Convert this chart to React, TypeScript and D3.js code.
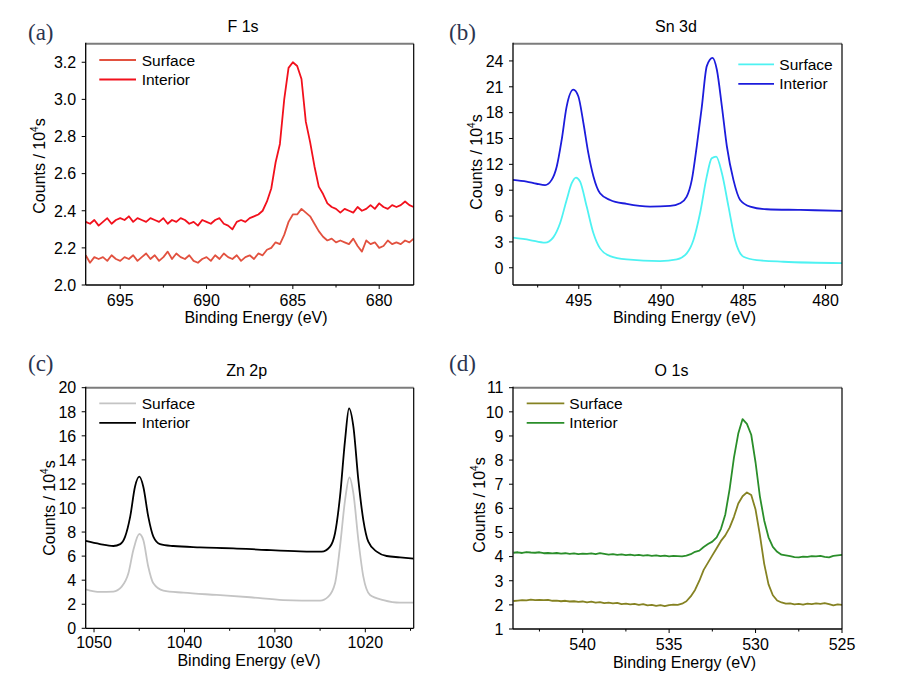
import React from "react";
import * as d3 from "d3";

// ---------- DATA ----------
// (a) F 1s : energy grid 697 -> 678 eV, step 0.25
const f1sEnergy = d3.range(697, 677.99, -0.25);
const f1sSurface = [
  2.16, 2.12, 2.15, 2.14, 2.15, 2.13, 2.16, 2.14, 2.13, 2.15, 2.14, 2.16, 2.13, 2.15, 2.17, 2.14,
  2.16, 2.13, 2.15, 2.18, 2.14, 2.17, 2.15, 2.14, 2.16, 2.13, 2.12, 2.14, 2.15, 2.13, 2.16, 2.14,
  2.17, 2.15, 2.14, 2.16, 2.13, 2.15, 2.16, 2.14, 2.17, 2.16, 2.19, 2.2, 2.23, 2.22, 2.27, 2.34,
  2.38, 2.38, 2.41, 2.39, 2.37, 2.33, 2.29, 2.26, 2.24, 2.25, 2.23, 2.24, 2.23, 2.22, 2.25, 2.21,
  2.18, 2.24, 2.22, 2.23, 2.2, 2.21, 2.24, 2.22, 2.23, 2.22, 2.24, 2.23, 2.25,
];
const f1sInterior = [
  2.34, 2.33, 2.35, 2.32, 2.34, 2.36, 2.33, 2.35, 2.36, 2.35, 2.37, 2.34, 2.36, 2.35, 2.34, 2.36,
  2.35, 2.34, 2.36, 2.33, 2.35, 2.34, 2.36, 2.35, 2.33, 2.34, 2.32, 2.35, 2.34, 2.33, 2.35, 2.36,
  2.33, 2.32, 2.3, 2.34, 2.35, 2.34, 2.36, 2.37, 2.38, 2.4, 2.45, 2.52, 2.66, 2.76, 3.0, 3.17,
  3.2, 3.18, 3.11, 2.88, 2.77, 2.64, 2.53, 2.49, 2.44, 2.42, 2.41, 2.39, 2.41, 2.4, 2.39, 2.42,
  2.4, 2.41, 2.43, 2.41, 2.44, 2.42, 2.41, 2.43, 2.42, 2.43, 2.45, 2.43, 2.42,
];
const f1sXTicks = [695, 690, 685, 680];
const f1sXMinor = [692.5, 687.5, 682.5];
const f1sYTicks = [2.0, 2.2, 2.4, 2.6, 2.8, 3.0, 3.2];

// (b) Sn 3d
const snSurfaceEnergy = [499, 497.97, 497.05, 496.55, 496.14, 495.74, 495.43, 495.17, 494.92, 494.52, 494.11, 493.71, 493.1, 492.09, 490.06, 489.04, 488.44, 488.03, 487.63, 487.22, 486.92, 486.65, 486.3, 485.9, 485.5, 484.99, 484.18, 482.56, 479];
const snSurface = [3.49, 3.22, 2.91, 3.53, 5.16, 7.87, 9.81, 10.47, 10.0, 7.1, 4.0, 2.25, 1.36, 0.97, 0.78, 0.97, 1.67, 3.22, 6.32, 10.6, 12.7, 12.9, 10.97, 7.1, 3.22, 1.28, 0.89, 0.7, 0.54];
const snInteriorEnergy = [499, 498.17, 497.56, 497.05, 496.65, 496.34, 496.04, 495.74, 495.33, 495.03, 494.72, 494.42, 494.11, 493.71, 493.1, 492.09, 490.67, 489.45, 488.84, 488.44, 488.13, 487.83, 487.52, 487.22, 486.87, 486.61, 486.3, 486.0, 485.6, 485.19, 484.58, 483.57, 481.54, 479];
const snInterior = [10.2, 10.0, 9.75, 9.6, 10.2, 11.75, 14.85, 18.7, 20.67, 19.9, 16.8, 13.3, 10.6, 8.65, 7.87, 7.41, 7.1, 7.17, 7.48, 8.26, 10.2, 14.1, 18.7, 23.4, 24.35, 23.0, 18.7, 14.1, 10.2, 7.87, 7.1, 6.79, 6.71, 6.6];
const snXTicks = [495, 490, 485, 480];
const snXMinor = [497.5, 492.5, 487.5, 482.5];
const snYTicks = [0, 3, 6, 9, 12, 15, 18, 21, 24];

// (c) Zn 2p
const znSurfaceEnergy = [1050.92, 1049.34, 1047.86, 1046.94, 1046.2, 1045.65, 1044.99, 1044.55, 1044.0, 1043.44, 1042.33, 1040.12, 1036.44, 1032.75, 1029.06, 1025.0, 1024.09, 1023.35, 1022.8, 1022.24, 1021.76, 1021.32, 1020.77, 1020.22, 1019.48, 1018.0, 1016.16, 1014.65];
const znSurface = [3.24, 3.02, 3.05, 3.46, 4.57, 6.51, 7.84, 7.34, 5.12, 3.74, 3.13, 2.96, 2.77, 2.58, 2.35, 2.3, 2.63, 3.74, 6.79, 10.66, 12.55, 11.22, 7.34, 4.29, 2.77, 2.35, 2.13, 2.13];
const znInteriorEnergy = [1050.92, 1049.34, 1047.86, 1047.1, 1046.57, 1046.0, 1045.47, 1044.99, 1044.55, 1044.0, 1043.44, 1042.7, 1041.23, 1038.28, 1034.59, 1030.9, 1027.22, 1024.82, 1023.9, 1023.35, 1022.8, 1022.24, 1021.8, 1021.32, 1020.77, 1020.22, 1019.67, 1018.74, 1017.64, 1016.16, 1014.65];
const znInterior = [7.26, 7.0, 6.84, 7.0, 7.6, 9.28, 11.77, 12.6, 11.77, 9.28, 7.62, 7.0, 6.84, 6.73, 6.65, 6.51, 6.4, 6.37, 6.79, 7.9, 10.94, 15.65, 18.28, 16.76, 12.33, 9.0, 7.2, 6.37, 6.01, 5.9, 5.79];
const znXTicks = [1050, 1040, 1030, 1020];
const znXMinor = [1045, 1035, 1025, 1015];
const znYTicks = [0, 2, 4, 6, 8, 10, 12, 14, 16, 18, 20];

// (d) O 1s : energy grid 544 -> 525 eV, step 0.25
const o1sEnergy = d3.range(544, 524.99, -0.25);
const o1sSurface = [
  2.16, 2.18, 2.2, 2.19, 2.22, 2.2, 2.21, 2.2, 2.21, 2.17, 2.18, 2.15, 2.17, 2.14, 2.15, 2.12,
  2.14, 2.1, 2.13, 2.09, 2.11, 2.07, 2.09, 2.06, 2.08, 2.03, 2.05, 2.02, 2.04, 2.0, 2.03, 1.98,
  2.0, 1.96, 1.99, 1.95, 1.99, 2.01, 2.0, 2.05, 2.15, 2.35, 2.62, 3.0, 3.45, 3.75, 4.05, 4.35,
  4.65, 4.88, 5.2, 5.65, 6.2, 6.5, 6.66, 6.55, 5.95, 4.9, 3.7, 2.85, 2.4, 2.18, 2.1, 2.05,
  2.06, 2.02, 2.04, 2.01, 2.05, 2.03, 2.06, 2.04, 2.07, 2.03, 1.98, 2.02, 2.0,
];
const o1sInterior = [
  4.16, 4.18, 4.15, 4.19, 4.17, 4.16, 4.18, 4.14, 4.15, 4.13, 4.15, 4.12, 4.14, 4.11, 4.13, 4.1,
  4.12, 4.11, 4.13, 4.1, 4.14, 4.11, 4.08, 4.1, 4.07, 4.09, 4.06, 4.08, 4.05, 4.07, 4.04, 4.06,
  4.03, 4.05, 4.02, 4.04, 4.01, 4.03, 4.02, 4.01, 4.04, 4.1, 4.2, 4.25, 4.4, 4.52, 4.62, 4.8,
  5.15, 5.75, 6.8, 8.1, 9.1, 9.7, 9.5, 9.05, 7.9, 6.5, 5.5, 4.8, 4.4, 4.2, 4.08, 4.05,
  4.02, 3.98, 3.97, 4.0, 3.99, 4.02, 4.01, 4.03, 3.99, 3.97, 4.03, 4.05, 4.07,
];
const o1sXTicks = [540, 535, 530, 525];
const o1sXMinor = [542.5, 537.5, 532.5, 527.5];
const o1sYTicks = [1, 2, 3, 4, 5, 6, 7, 8, 9, 10, 11];

const seriesNames = ["Surface", "Interior"];

// ---------- DRAWING ----------
const FONT = "'Liberation Sans', Arial, sans-serif";
const SERIF = "'Liberation Serif', 'Times New Roman', serif";

type Series = { energy: number[]; values: number[]; color: string };

type PanelProps = {
  label: string;
  title: string;
  box: [number, number, number, number]; // left, right, top, bottom
  xDomain: [number, number];
  yDomain: [number, number];
  xTicks: number[];
  xMinor: number[];
  yTicks: number[];
  yFmt: (v: number) => string;
  series: Series[];
  smooth: boolean;
  labelPos: [number, number];
  titlePos: [number, number];
  xLabelPos: [number, number];
  yLabelPos: [number, number];
  xTickBaseline: number;
  legend: [number, number, number, number]; // x1, x2, y, textX
};

function Panel(p: PanelProps) {
  const [L, R, T, B] = p.box;
  const x = d3.scaleLinear().domain(p.xDomain).range([L, R]);
  const y = d3.scaleLinear().domain(p.yDomain).range([B, T]);
  const line = d3
    .line<[number, number]>()
    .x((d) => x(d[0]))
    .y((d) => y(d[1]))
    .curve(p.smooth ? d3.curveMonotoneX : d3.curveLinear);
  const [lx1, lx2, ly, ltx] = p.legend;
  const clipId = "clip-" + p.title.replace(/\s/g, "");
  return (
    <g>
      <text x={p.labelPos[0]} y={p.labelPos[1]} fontFamily={SERIF} fontSize={23} fill="#2b3550">
        {p.label}
      </text>
      <text x={p.titlePos[0]} y={p.titlePos[1]} fontFamily={FONT} fontSize={16} textAnchor="middle" fill="#000">
        {p.title}
      </text>
      <defs>
        <clipPath id={clipId}>
          <rect x={L} y={T} width={R - L} height={B - T} />
        </clipPath>
      </defs>
      <g clipPath={`url(#${clipId})`}>
        {p.series.map((s, i) => {
          const pts: [number, number][] = s.values
            .slice(0, Math.min(s.values.length, s.energy.length))
            .map((v, j) => [s.energy[j], v]);
          return <path key={i} d={line(pts) || ""} fill="none" stroke={s.color} strokeWidth={1.8} strokeLinejoin="round" />;
        })}
      </g>
      {/* frame */}
      <line x1={L} x2={R} y1={T} y2={T} stroke="#7c7c7c" strokeWidth={2} />
      <line x1={R} x2={R} y1={T} y2={B} stroke="#000" strokeWidth={1.2} />
      <line x1={L} x2={L} y1={T - 1} y2={B} stroke="#000" strokeWidth={1.3} />
      <line x1={L} x2={R} y1={B} y2={B} stroke="#000" strokeWidth={1.3} />
      {/* x ticks */}
      {p.xTicks.map((t) => (
        <g key={"xt" + t}>
          <line x1={x(t)} x2={x(t)} y1={B} y2={B + 4} stroke="#000" strokeWidth={1} />
          <text x={x(t)} y={p.xTickBaseline} fontFamily={FONT} fontSize={16} textAnchor="middle">
            {t}
          </text>
        </g>
      ))}
      {p.xMinor.map((t) => (
        <line key={"xm" + t} x1={x(t)} x2={x(t)} y1={B} y2={B + 2.5} stroke="#000" strokeWidth={1} />
      ))}
      {/* y ticks */}
      {p.yTicks.map((t) => (
        <g key={"yt" + t}>
          <line x1={L - 4} x2={L} y1={y(t)} y2={y(t)} stroke="#000" strokeWidth={1} />
          <text x={L - 9.5} y={y(t)} dy="0.36em" fontFamily={FONT} fontSize={16} textAnchor="end">
            {p.yFmt(t)}
          </text>
        </g>
      ))}
      {/* axis labels */}
      <text x={p.xLabelPos[0]} y={p.xLabelPos[1]} fontFamily={FONT} fontSize={16} textAnchor="middle">
        Binding Energy (eV)
      </text>
      <text
        transform={`translate(${p.yLabelPos[0]},${p.yLabelPos[1]}) rotate(-90)`}
        fontFamily={FONT}
        fontSize={16}
        textAnchor="middle"
      >
        Counts / 10
        <tspan fontSize={10} dy={-7}>4</tspan>
        <tspan dy={7}>s</tspan>
      </text>
      {/* legend */}
      {p.series.map((s, i) => (
        <g key={"lg" + i}>
          <line x1={lx1} x2={lx2} y1={ly + i * 19.5} y2={ly + i * 19.5} stroke={s.color} strokeWidth={1.8} />
          <text x={ltx} y={ly + i * 19.5} dy="0.36em" fontFamily={FONT} fontSize={15.5}>
            {seriesNames[i]}
          </text>
        </g>
      ))}
    </g>
  );
}

export default function App() {
  const f1 = (v: number) => v.toFixed(1);
  const f0 = (v: number) => String(v);
  return (
    <svg width={909} height={681} style={{ position: "absolute", left: 0, top: 0, background: "#fff" }}>
      <rect x={0} y={0} width={909} height={681} fill="#fff" />
      <Panel
        label="(a)"
        title="F 1s"
        box={[85.7, 413.7, 43.7, 285]}
        xDomain={[697, 678]}
        yDomain={[2.0, 3.3]}
        xTicks={f1sXTicks}
        xMinor={f1sXMinor}
        yTicks={f1sYTicks}
        yFmt={f1}
        series={[
          { energy: f1sEnergy, values: f1sSurface, color: "#e2513f" },
          { energy: f1sEnergy, values: f1sInterior, color: "#f2101c" },
        ]}
        smooth={false}
        labelPos={[28, 40]}
        titlePos={[243, 31.5]}
        xLabelPos={[256, 323]}
        yLabelPos={[45, 166]}
        xTickBaseline={306}
        legend={[99.3, 136, 60, 141.7]}
      />
      <Panel
        label="(b)"
        title="Sn 3d"
        box={[513, 842, 43.7, 285]}
        xDomain={[499, 479]}
        yDomain={[-2, 26]}
        xTicks={snXTicks}
        xMinor={snXMinor}
        yTicks={snYTicks}
        yFmt={f0}
        series={[
          { energy: snSurfaceEnergy, values: snSurface, color: "#4ef2f2" },
          { energy: snInteriorEnergy, values: snInterior, color: "#1c1cdc" },
        ]}
        smooth={true}
        labelPos={[449, 40]}
        titlePos={[676, 31.5]}
        xLabelPos={[684.5, 323]}
        yLabelPos={[481.7, 162]}
        xTickBaseline={306}
        legend={[738.3, 774, 64.3, 779.3]}
      />
      <Panel
        label="(c)"
        title="Zn 2p"
        box={[85.7, 413.7, 387.7, 628.3]}
        xDomain={[1050.92, 1014.65]}
        yDomain={[0, 20]}
        xTicks={znXTicks}
        xMinor={znXMinor}
        yTicks={znYTicks}
        yFmt={f0}
        series={[
          { energy: znSurfaceEnergy, values: znSurface, color: "#c4c4c4" },
          { energy: znInteriorEnergy, values: znInterior, color: "#000000" },
        ]}
        smooth={true}
        labelPos={[28, 371]}
        titlePos={[246.7, 376]}
        xLabelPos={[249, 666]}
        yLabelPos={[55, 508]}
        xTickBaseline={648.3}
        legend={[99.3, 136, 403.3, 141.7]}
      />
      <Panel
        label="(d)"
        title="O 1s"
        box={[513, 842, 387.7, 629]}
        xDomain={[544.03, 525]}
        yDomain={[1, 11]}
        xTicks={o1sXTicks}
        xMinor={o1sXMinor}
        yTicks={o1sYTicks}
        yFmt={f0}
        series={[
          { energy: o1sEnergy, values: o1sSurface, color: "#858222" },
          { energy: o1sEnergy, values: o1sInterior, color: "#2a8e2a" },
        ]}
        smooth={false}
        labelPos={[449, 371]}
        titlePos={[671.5, 375.7]}
        xLabelPos={[684.5, 668.3]}
        yLabelPos={[485, 505]}
        xTickBaseline={650}
        legend={[526.7, 564.3, 403.3, 569.3]}
      />
    </svg>
  );
}
